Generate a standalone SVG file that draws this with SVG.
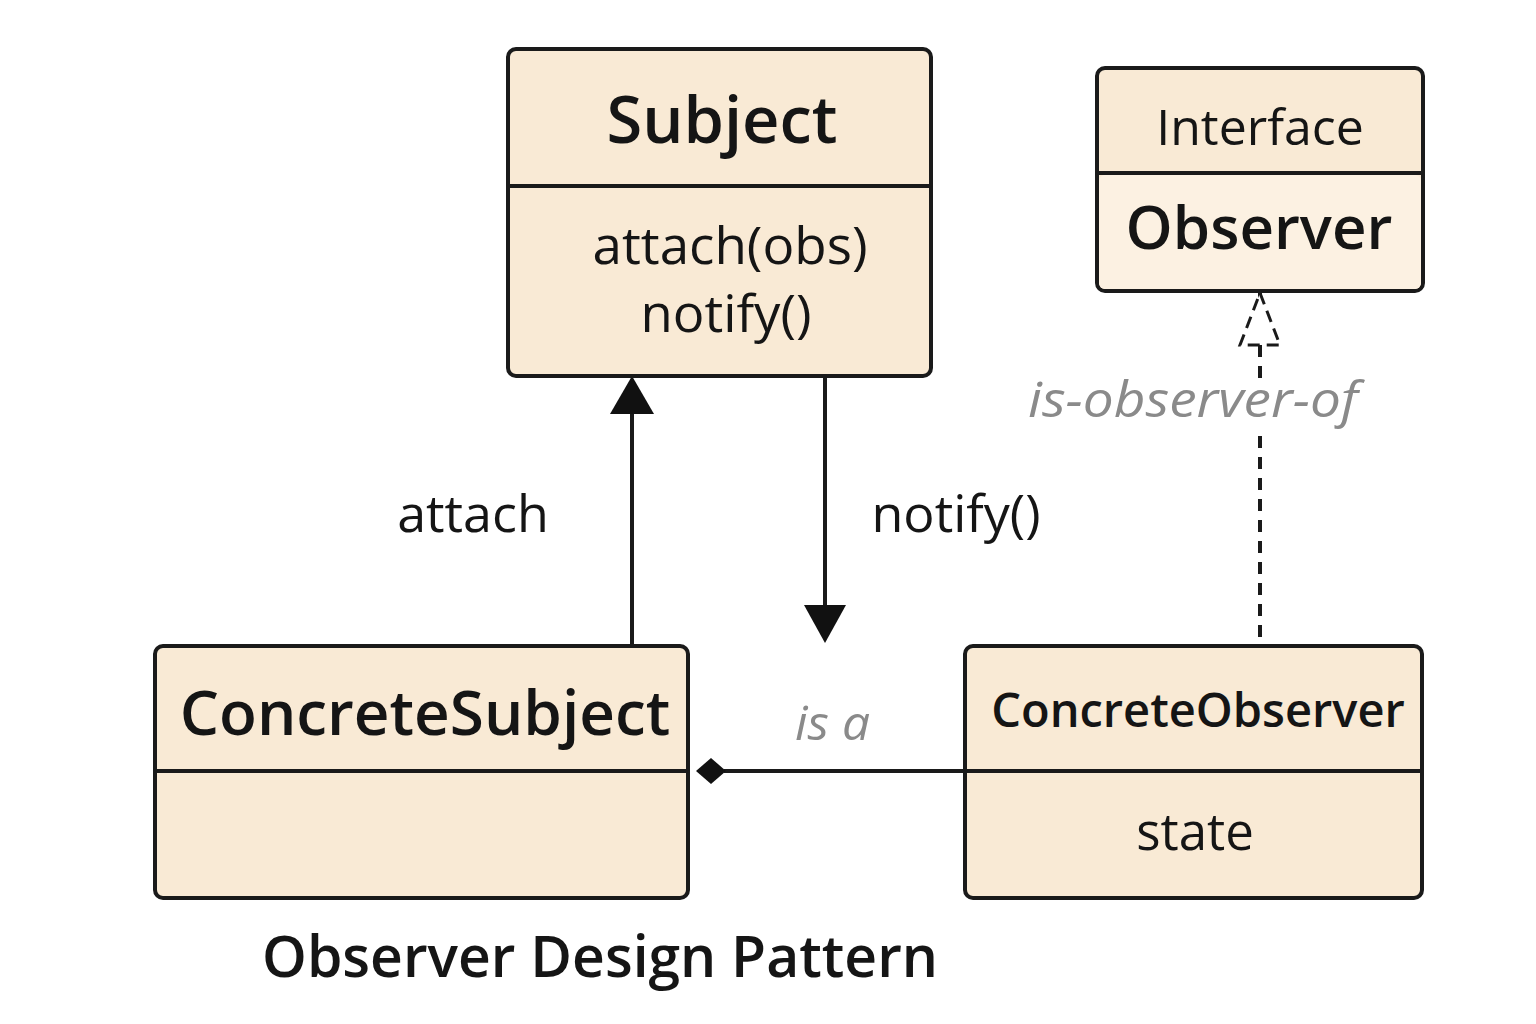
<svg xmlns="http://www.w3.org/2000/svg" width="1536" height="1024" viewBox="0 0 1536 1024">
<style>
.box{fill:#f9ead5;stroke:#1a1a1a;stroke-width:4}
.lite{fill:#fcf1e2}
.div{stroke:#1a1a1a;stroke-width:4}
text{font-family:"Open Sans","Noto Sans",sans-serif;fill:#151515}
.b{font-weight:600}
.lbl{font-size:52px}
.gray{fill:#8a8a8a;font-style:italic}
.line{stroke:#1a1a1a;stroke-width:4;fill:none}
</style>
<rect width="1536" height="1024" fill="#ffffff"/>
<g id="connectors">
<line class="line" x1="632" y1="646" x2="632" y2="410"/>
<polygon points="632,376 654,414 610,414" fill="#111"/>
<line class="line" x1="825" y1="378" x2="825" y2="608"/>
<polygon points="804,605 846,605 825,643" fill="#111"/>
<line class="line" x1="1260" y1="293" x2="1260" y2="300"/>
<line class="line" x1="1260" y1="345" x2="1260" y2="378" stroke-dasharray="12,9"/>
<line class="line" x1="1260" y1="436" x2="1260" y2="640" stroke-dasharray="12,9"/>
<polygon points="1260,293 1280,345 1240,345" fill="#fff" stroke="#1a1a1a" stroke-width="3" stroke-dasharray="12,7"/>
<line class="line" x1="724" y1="771" x2="965" y2="771"/>
<polygon points="696,771 711,758 726,771 711,784" fill="#111"/>
<text class="lbl" x="473" y="532" text-anchor="middle">attach</text>
<text class="lbl" x="956" y="532" text-anchor="middle">notify()</text>
<text class="gray" x="1028" y="417" font-size="50" textLength="330" lengthAdjust="spacingAndGlyphs">is-observer-of</text>
<text class="gray" x="795" y="740" font-size="48" textLength="75" lengthAdjust="spacingAndGlyphs">is a</text>
</g>
<g id="subject">
<rect class="box" x="508" y="49" width="423" height="327" rx="8"/>
<line class="div" x1="508" y1="186" x2="931" y2="186"/>
<text class="b" x="722" y="143" text-anchor="middle" font-size="65">Subject</text>
<text x="730" y="264" text-anchor="middle" font-size="51" textLength="275" lengthAdjust="spacingAndGlyphs">attach(obs)</text>
<text x="726" y="332" text-anchor="middle" font-size="51" textLength="171" lengthAdjust="spacingAndGlyphs">notify()</text>
</g>
<g id="observer">
<rect class="box" x="1097" y="68" width="326" height="223" rx="8"/>
<rect class="lite" x="1099" y="175" width="322" height="114" rx="6"/>
<line class="div" x1="1097" y1="173" x2="1423" y2="173"/>
<text x="1260" y="145" text-anchor="middle" font-size="50">Interface</text>
<text class="b" x="1259" y="249" text-anchor="middle" font-size="60">Observer</text>
</g>
<g id="concreteSubject">
<rect class="box" x="155" y="646" width="533" height="252" rx="8"/>
<line class="div" x1="155" y1="771" x2="688" y2="771"/>
<text class="b" x="425" y="735" text-anchor="middle" font-size="62">ConcreteSubject</text>
</g>
<g id="concreteObserver">
<rect class="box" x="965" y="646" width="457" height="252" rx="8"/>
<line class="div" x1="965" y1="771" x2="1422" y2="771"/>
<text class="b" x="1198" y="727" text-anchor="middle" font-size="47">ConcreteObserver</text>
<text x="1195" y="850" text-anchor="middle" font-size="51">state</text>
</g>
<text class="b" x="600" y="977" text-anchor="middle" font-size="57">Observer Design Pattern</text>
</svg>
